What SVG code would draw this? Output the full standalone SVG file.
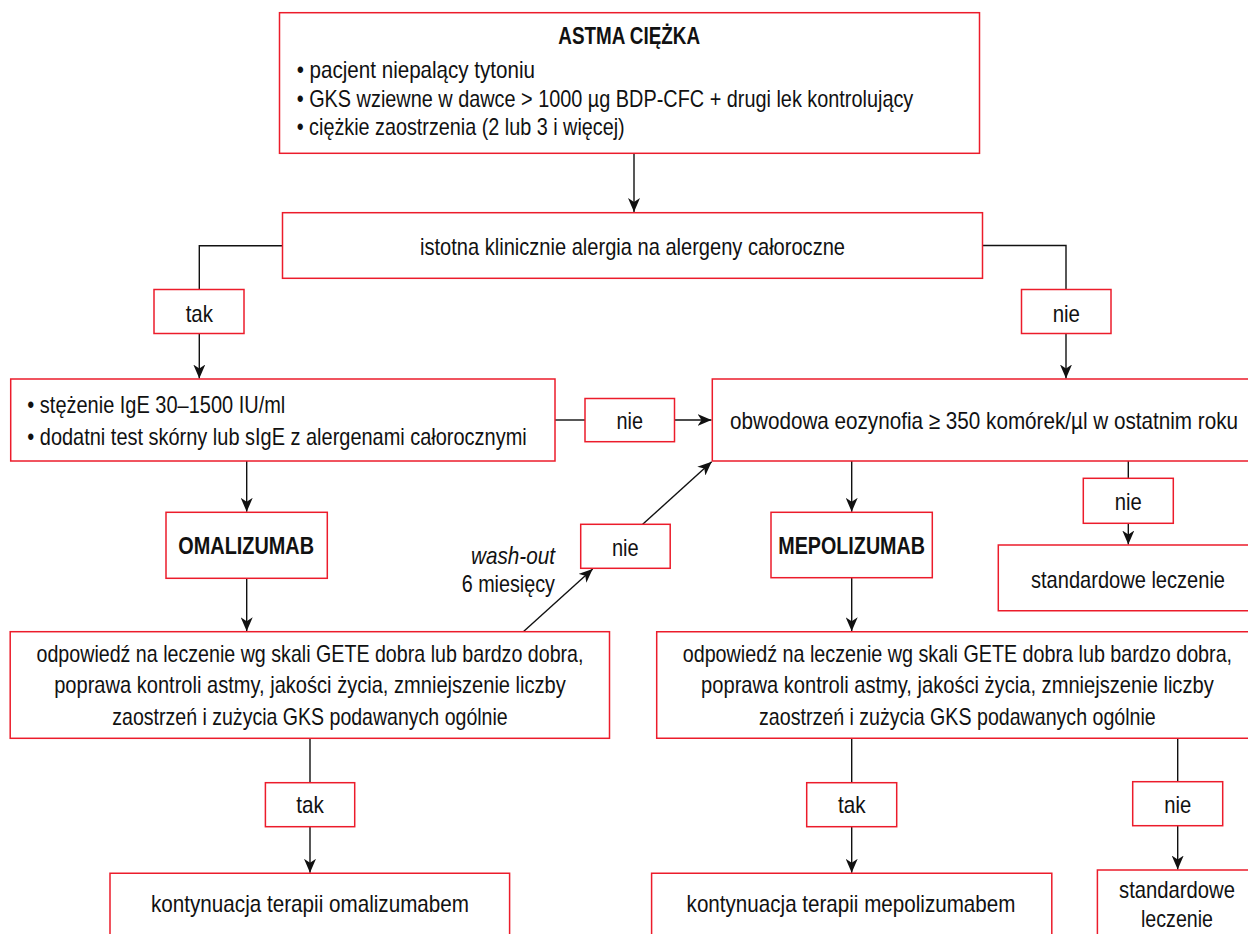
<svg xmlns="http://www.w3.org/2000/svg" width="1248" height="934" viewBox="0 0 1248 934">
<style>
.b{fill:#fff;stroke:#ec1c2b;stroke-width:1.5}
.t{font-family:"Liberation Sans Narrow","Liberation Sans",Arial,sans-serif;font-size:24px;fill:#111}
.c{text-anchor:middle}
.bd{font-weight:bold}
.it{font-style:italic}
.l{fill:none;stroke:#111;stroke-width:1.4}
</style>
<defs>
<marker id="ah" viewBox="0 0 14 12" refX="14" refY="6" markerWidth="14" markerHeight="12" markerUnits="userSpaceOnUse" orient="auto">
<path d="M0,0 L14,6 L0,12 L4,6 Z" fill="#111"/>
</marker>
</defs>
<rect width="1248" height="934" fill="#fff"/>

<g id="connectors">
<path class="l" d="M634,153.5 V212" marker-end="url(#ah)"/>
<path class="l" d="M282.5,245.7 H199.3 V289.5"/>
<path class="l" d="M199.3,333.5 V378.5" marker-end="url(#ah)"/>
<path class="l" d="M982.5,245.5 H1066 V289.5"/>
<path class="l" d="M1066,333.5 V378.5" marker-end="url(#ah)"/>
<path class="l" d="M555,420 H585"/>
<path class="l" d="M674.5,420 H711.5" marker-end="url(#ah)"/>
<path class="l" d="M246.7,461 V511.8" marker-end="url(#ah)"/>
<path class="l" d="M246.7,578.3 V631.2" marker-end="url(#ah)"/>
<path class="l" d="M523.3,631.7 L592.7,569" marker-end="url(#ah)"/>
<path class="l" d="M642.7,524.3 L711.7,461.7" marker-end="url(#ah)"/>
<path class="l" d="M851.7,461 V511.8" marker-end="url(#ah)"/>
<path class="l" d="M851.7,577.7 V631.2" marker-end="url(#ah)"/>
<path class="l" d="M1128.3,461 V478.3"/>
<path class="l" d="M1128.3,523.3 V544.5" marker-end="url(#ah)"/>
<path class="l" d="M310,738.3 V782.7"/>
<path class="l" d="M310,826.7 V872.8" marker-end="url(#ah)"/>
<path class="l" d="M851.7,738.3 V782.7"/>
<path class="l" d="M851.7,826.7 V872.8" marker-end="url(#ah)"/>
<path class="l" d="M1177.7,738.3 V781.7"/>
<path class="l" d="M1177.7,825.7 V869.5" marker-end="url(#ah)"/>
</g>

<g id="n-start">
<rect class="b" x="279.5" y="12.7" width="700" height="140.6"/>
<text class="t bd" x="558.3" y="44.3" textLength="141.7" lengthAdjust="spacingAndGlyphs">ASTMA CIĘŻKA</text>
<text class="t" x="296.7" y="78.3" textLength="238.3" lengthAdjust="spacingAndGlyphs">• pacjent niepalący tytoniu</text>
<text class="t" x="296.7" y="106.7" textLength="616.6" lengthAdjust="spacingAndGlyphs">• GKS wziewne w dawce &gt; 1000 µg BDP-CFC + drugi lek kontrolujący</text>
<text class="t" x="296.7" y="135" textLength="328" lengthAdjust="spacingAndGlyphs">• ciężkie zaostrzenia (2 lub 3 i więcej)</text>
</g>

<g id="n-alergia">
<rect class="b" x="282.5" y="212.7" width="700" height="65.6"/>
<text class="t c" x="632.5" y="254.5" textLength="425" lengthAdjust="spacingAndGlyphs">istotna klinicznie alergia na alergeny całoroczne</text>
</g>

<g id="n-tak1">
<rect class="b" x="154" y="289.5" width="90" height="44"/>
<text class="t c" x="199.3" y="321.7" textLength="27.3" lengthAdjust="spacingAndGlyphs">tak</text>
</g>

<g id="n-nie1">
<rect class="b" x="1021.5" y="289.5" width="89.5" height="44"/>
<text class="t c" x="1066.3" y="321.7" textLength="27.3" lengthAdjust="spacingAndGlyphs">nie</text>
</g>

<g id="n-ige">
<rect class="b" x="10.7" y="379" width="544.3" height="82"/>
<text class="t" x="27.3" y="412.5" textLength="258" lengthAdjust="spacingAndGlyphs">• stężenie IgE 30–1500 IU/ml</text>
<text class="t" x="27.3" y="444.5" textLength="499.4" lengthAdjust="spacingAndGlyphs">• dodatni test skórny lub sIgE z alergenami całorocznymi</text>
</g>

<g id="n-nie2">
<rect class="b" x="585" y="398.5" width="89.5" height="43.2"/>
<text class="t c" x="629.7" y="429.3" textLength="26.5" lengthAdjust="spacingAndGlyphs">nie</text>
</g>

<g id="n-eos">
<path class="b" d="M1248,379 H712.3 V461 H1248"/>
<text class="t" x="730" y="429.3" textLength="508" lengthAdjust="spacingAndGlyphs">obwodowa eozynofia ≥ 350 komórek/µl w ostatnim roku</text>
</g>

<g id="n-omali">
<rect class="b" x="166" y="512.3" width="161.3" height="66"/>
<text class="t bd" x="178.3" y="554.3" textLength="135.7" lengthAdjust="spacingAndGlyphs">OMALIZUMAB</text>
</g>

<g id="n-washout-label">
<text class="t it" x="555" y="564.3" text-anchor="end" textLength="84" lengthAdjust="spacingAndGlyphs">wash-out</text>
<text class="t" x="555" y="591.7" text-anchor="end" textLength="93.3" lengthAdjust="spacingAndGlyphs">6 miesięcy</text>
</g>

<g id="n-nie3">
<rect class="b" x="580.7" y="524.3" width="89.5" height="44"/>
<text class="t c" x="625.3" y="555.5" textLength="26.7" lengthAdjust="spacingAndGlyphs">nie</text>
</g>

<g id="n-mepo">
<rect class="b" x="771" y="512.3" width="161.3" height="65.4"/>
<text class="t bd" x="778.3" y="554.3" textLength="146.7" lengthAdjust="spacingAndGlyphs">MEPOLIZUMAB</text>
</g>

<g id="n-nie4">
<rect class="b" x="1083.3" y="478.3" width="90" height="45"/>
<text class="t c" x="1128.3" y="510" textLength="27" lengthAdjust="spacingAndGlyphs">nie</text>
</g>

<g id="n-std1">
<path class="b" d="M1248,545 H998.3 V610.7 H1248"/>
<text class="t" x="1031" y="587.7" textLength="194" lengthAdjust="spacingAndGlyphs">standardowe leczenie</text>
</g>

<g id="n-resp1">
<rect class="b" x="10.2" y="631.7" width="599.3" height="106.6"/>
<text class="t c" x="310" y="661.7" textLength="547" lengthAdjust="spacingAndGlyphs">odpowiedź na leczenie wg skali GETE dobra lub bardzo dobra,</text>
<text class="t c" x="310" y="693.3" textLength="511.6" lengthAdjust="spacingAndGlyphs">poprawa kontroli astmy, jakości życia, zmniejszenie liczby</text>
<text class="t c" x="310" y="725" textLength="395.4" lengthAdjust="spacingAndGlyphs">zaostrzeń i zużycia GKS podawanych ogólnie</text>
</g>

<g id="n-resp2">
<path class="b" d="M1248,631.7 H656.7 V738.3 H1248"/>
<text class="t c" x="957.4" y="661.7" textLength="549.4" lengthAdjust="spacingAndGlyphs">odpowiedź na leczenie wg skali GETE dobra lub bardzo dobra,</text>
<text class="t c" x="957.4" y="693.3" textLength="512.6" lengthAdjust="spacingAndGlyphs">poprawa kontroli astmy, jakości życia, zmniejszenie liczby</text>
<text class="t c" x="957.4" y="725" textLength="396.7" lengthAdjust="spacingAndGlyphs">zaostrzeń i zużycia GKS podawanych ogólnie</text>
</g>

<g id="n-tak2">
<rect class="b" x="265.4" y="782.7" width="89.3" height="44"/>
<text class="t c" x="310" y="813.3" textLength="27.6" lengthAdjust="spacingAndGlyphs">tak</text>
</g>

<g id="n-tak3">
<rect class="b" x="806.7" y="782.7" width="90" height="44"/>
<text class="t c" x="851.7" y="813.3" textLength="27.6" lengthAdjust="spacingAndGlyphs">tak</text>
</g>

<g id="n-nie5">
<rect class="b" x="1132.7" y="781.7" width="90" height="44"/>
<text class="t c" x="1177.7" y="812.5" textLength="27" lengthAdjust="spacingAndGlyphs">nie</text>
</g>

<g id="n-kont1">
<path class="b" d="M110,934 V873.3 H509.6 V934"/>
<text class="t c" x="310" y="912" textLength="318" lengthAdjust="spacingAndGlyphs">kontynuacja terapii omalizumabem</text>
</g>

<g id="n-kont2">
<path class="b" d="M651.6,934 V873.3 H1051.8 V934"/>
<text class="t c" x="851" y="912" textLength="328.8" lengthAdjust="spacingAndGlyphs">kontynuacja terapii mepolizumabem</text>
</g>

<g id="n-std2">
<path class="b" d="M1097.4,934 V870 H1248"/>
<text class="t c" x="1177" y="898.3" textLength="116" lengthAdjust="spacingAndGlyphs">standardowe</text>
<text class="t c" x="1177" y="926.7" textLength="72" lengthAdjust="spacingAndGlyphs">leczenie</text>
</g>
</svg>
